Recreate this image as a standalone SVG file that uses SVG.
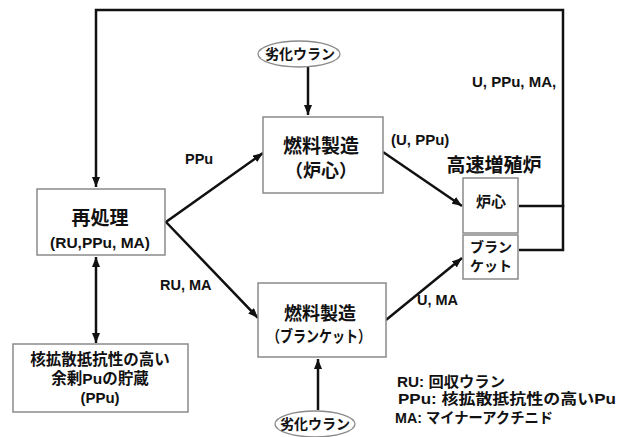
<svg xmlns="http://www.w3.org/2000/svg" width="618" height="437" viewBox="0 0 618 437">
<defs>
<marker id="ah" markerWidth="10" markerHeight="8" refX="10" refY="4" orient="auto" markerUnits="userSpaceOnUse">
<path d="M0,0 L10,4 L0,8 Z" fill="#111"/>
</marker>
<marker id="ahs" markerWidth="10" markerHeight="8" refX="0" refY="4" orient="auto" markerUnits="userSpaceOnUse">
<path d="M10,0 L0,4 L10,8 Z" fill="#111"/>
</marker>
<style>
.box{fill:#fff;stroke:#8a8a8a;stroke-width:1.5}
.ell{fill:#fff;stroke:#8a8a8a;stroke-width:1.3}
.ln{fill:none;stroke:#111;stroke-width:2.5}
.t{font-family:"Liberation Sans","Noto Sans CJK JP",sans-serif;font-weight:bold;fill:#111;text-anchor:middle}
.l{font-family:"Liberation Sans","Noto Sans CJK JP",sans-serif;font-weight:bold;fill:#111}
</style>
</defs>
<rect width="618" height="437" fill="#fff"/>

<g id="connectors">
<polyline class="ln" points="519,206 563,206 563,10 96,10 96,187" marker-end="url(#ah)"/>
<polyline class="ln" points="519,250 563,250 563,205"/>
<line class="ln" x1="96" y1="257" x2="96" y2="343" marker-start="url(#ahs)" marker-end="url(#ah)"/>
<line class="ln" x1="308" y1="67" x2="308" y2="115" marker-end="url(#ah)"/>
<line class="ln" x1="318" y1="410" x2="318" y2="359" marker-end="url(#ah)"/>
<polyline class="ln" points="263,153 166,222 258,318" marker-start="url(#ahs)" marker-end="url(#ah)"/>
<line class="ln" x1="383" y1="152" x2="462" y2="206" marker-end="url(#ah)"/>
<line class="ln" x1="386" y1="320" x2="462" y2="258" marker-end="url(#ah)"/>
<text class="l" x="185" y="164" font-size="14.5">PPu</text>
<text class="l" x="160" y="290" font-size="14.5">RU,  MA</text>
<text class="l" x="391" y="145" font-size="15">(U, PPu)</text>
<text class="l" x="417" y="305" font-size="14.5">U, MA</text>
<text class="l" x="472" y="87" font-size="15">U, PPu, MA,</text>
</g>

<g id="reprocessing">
<rect class="box" x="37" y="189" width="128" height="66"/>
<text class="t" x="100" y="225" font-size="19">再処理</text>
<text class="t" x="100" y="248" font-size="15.5">(RU,PPu, MA)</text>
</g>

<g id="storage">
<rect class="box" x="13" y="344" width="175" height="68"/>
<text class="t" x="100" y="365" font-size="15.5">核拡散抵抗性の高い</text>
<text class="t" x="100" y="384" font-size="15.5">余剰Puの貯蔵</text>
<text class="t" x="100" y="403" font-size="15">(PPu)</text>
</g>

<g id="du-top">
<ellipse class="ell" cx="299" cy="54" rx="41" ry="13"/>
<text class="t" x="300" y="59" font-size="14">劣化ウラン</text>
</g>

<g id="fuel-core">
<rect class="box" x="263" y="117" width="120" height="76"/>
<text class="t" x="321" y="153" font-size="19">燃料製造</text>
<text class="t" x="321" y="177" font-size="18">（炉心）</text>
</g>

<g id="fuel-blanket">
<rect class="box" x="258" y="283" width="128" height="74"/>
<text class="t" x="320" y="320" font-size="18">燃料製造</text>
<text class="t" x="319" y="342" font-size="16" textLength="104" lengthAdjust="spacingAndGlyphs">（ブランケット）</text>
</g>

<g id="du-bottom">
<ellipse class="ell" cx="315" cy="424" rx="40" ry="13"/>
<text class="t" x="315" y="429" font-size="14">劣化ウラン</text>
</g>

<g id="fbr">
<text class="t" x="494" y="172" font-size="19">高速増殖炉</text>
<rect class="box" x="463" y="178" width="55" height="55"/>
<text class="t" x="491" y="207" font-size="15">炉心</text>
<rect class="box" x="463" y="235" width="55" height="44"/>
<text class="t" x="491" y="252" font-size="14">ブラン</text>
<text class="t" x="491" y="271" font-size="14">ケット</text>
</g>

<g id="legend">
<text class="l" x="397" y="387" font-size="14.5" textLength="108" lengthAdjust="spacingAndGlyphs">RU: 回収ウラン</text>
<text class="l" x="398" y="404" font-size="14.5" textLength="218" lengthAdjust="spacingAndGlyphs">PPu: 核拡散抵抗性の高いPu</text>
<text class="l" x="395" y="423" font-size="14.5" textLength="158" lengthAdjust="spacingAndGlyphs">MA: マイナーアクチニド</text>
</g>
</svg>
